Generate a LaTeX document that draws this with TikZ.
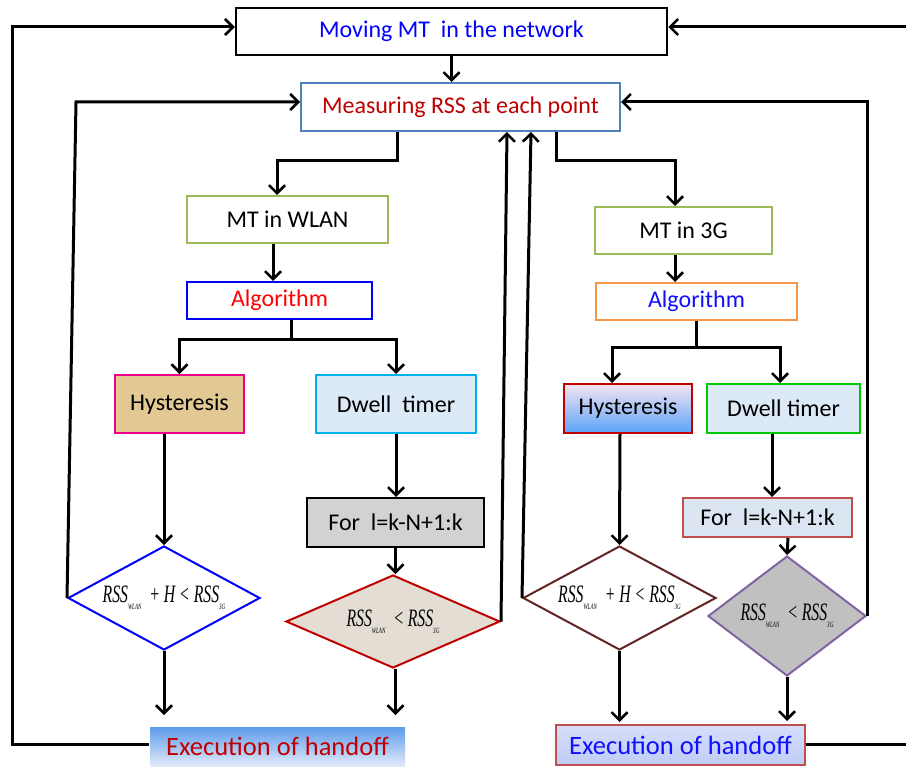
\documentclass[tikz,border=0pt]{standalone}
\usepackage{fontspec}
\setmainfont{Carlito}
\newfontfamily\mathserif{Liberation Serif}
\usetikzlibrary{arrows.meta,shapes.geometric}
\definecolor{measborder}{HTML}{4F81BD}
\definecolor{darkred}{HTML}{C00000}
\definecolor{olive}{HTML}{9BBB59}
\definecolor{orangeb}{HTML}{F79646}
\definecolor{cyanb}{HTML}{00B0F0}
\definecolor{lightblue}{HTML}{DCE9F6}
\definecolor{tan}{HTML}{E2C993}
\definecolor{marble}{HTML}{D2D2D2}
\definecolor{beige}{HTML}{E3DDD3}
\definecolor{brownb}{HTML}{632523}
\definecolor{purpleb}{HTML}{8064A2}
\definecolor{grayfill}{HTML}{C0C0C0}
\definecolor{redb}{HTML}{C0504D}
\definecolor{greenb}{HTML}{00C800}
\definecolor{forfill}{HTML}{DCE6F2}
\definecolor{exLtop}{HTML}{5D9CEC}
\definecolor{exLbot}{HTML}{E2EAF8}
\definecolor{exRtop}{HTML}{D6DEFA}
\definecolor{exRbot}{HTML}{BFCCF4}
\definecolor{hysRtop}{HTML}{F5E4F2}
\definecolor{hysRbot}{HTML}{5BA3F7}
\definecolor{textblue}{HTML}{1010FF}
\tikzset{
  box/.style={rectangle, draw, line width=2pt, inner sep=0pt, font=\fontsize{24}{24}\selectfont, align=center},
  exbox/.style={box, font=\fontsize{26.5}{26.5}\selectfont},
  dia/.style={diamond, draw, line width=2pt, inner sep=0pt, shape aspect=2},
  line/.style={line width=3pt},
  arr/.style={line width=3pt, -{Straight Barb[length=8pt,width=16pt,line width=2.5pt]}},
}
\newcommand{\rss}[1]{RSS\raisebox{-7pt}{\fontsize{8}{8}\selectfont #1}}
\newcommand{\mathtext}[1]{\scalebox{0.63}[1]{\mathserif\itshape\fontsize{25}{25}\selectfont #1}}
\begin{document}
\begin{tikzpicture}[x=1pt,y=-1pt]
\useasboundingbox (0,0) rectangle (906,768);
\fill[white] (0,0) rectangle (906,768);
% top boxes
\node[box, draw=black, line width=2.5pt, minimum width=431, minimum height=47, text=blue] (move) at (451.5,31.5) {Moving MT\ \ in the network};
\node[box, draw=measborder, minimum width=319, minimum height=48, text=darkred] (meas) at (460.5,107) {Measuring RSS at each point};
% left branch
\node[box, draw=olive, minimum width=201, minimum height=47] (wlan) at (287.5,219.5) {MT in WLAN};
\node[box, draw=blue, minimum width=185, minimum height=37, text=red] (algL) at (279.5,300.5) {Algorithm};
\node[box, draw=magenta, fill=tan, minimum width=129, minimum height=58] (hysL) at (179.5,404) {Hysteresis};
\node[box, draw=cyanb, fill=lightblue, minimum width=160, minimum height=58] (dwL) at (396,404) {Dwell\ \ timer};
\node[box, draw=black, fill=marble, minimum width=177, minimum height=49] (forL) at (395.5,522.5) {For\ \ l=k-N+1:k};
\node[dia, draw=blue, minimum width=192, minimum height=104] (dL) at (164,598)
  {\mathtext{\rss{WLAN}\ \ + H < \rss{3G}}};
\node[dia, draw=darkred, fill=beige, minimum width=214, minimum height=93] (d2L) at (393,621.5)
  {\mathtext{\rss{WLAN}\ \ < \rss{3G}}};
\node[exbox, draw=none, top color=exLtop, bottom color=exLbot, minimum width=255, minimum height=39, text=darkred] (exL) at (277.5,746.5) {Execution of handoff};
% right branch
\node[box, draw=olive, minimum width=177, minimum height=47] (g3) at (683.5,230.5) {MT in 3G};
\node[box, draw=orangeb, minimum width=201, minimum height=37, text=textblue] (algR) at (696.5,301.5) {Algorithm};
\node[box, draw=darkred, top color=hysRtop, bottom color=hysRbot, minimum width=128, minimum height=49] (hysR) at (628,408.5) {Hysteresis};
\node[box, draw=greenb, fill=lightblue, minimum width=153, minimum height=49] (dwR) at (783.5,408.5) {Dwell timer};
\node[box, draw=redb, fill=forfill, minimum width=169, minimum height=39] (forR) at (767.5,517.5) {For\ \ l=k-N+1:k};
\node[dia, draw=brownb, minimum width=193, minimum height=104] (d3R) at (619.5,598)
  {\mathtext{\rss{WLAN}\ \ + H < \rss{3G}}};
\node[dia, draw=purpleb, fill=grayfill, shape aspect=1.4, minimum width=158, minimum height=120] (d4R) at (787,616)
  {\mathtext{\rss{WLAN}\ \ < \rss{3G}}};
\node[exbox, draw=redb, top color=exRtop, bottom color=exRbot, minimum width=249, minimum height=40, text=textblue] (exR) at (680.5,745) {Execution of handoff};
% corner coordinates
\coordinate (oL) at (12,744);
\coordinate (oLt) at (12,27);
\coordinate (oR) at (915,744);
\coordinate (oRt) at (915,27);
\coordinate (iL) at (76,102);
\coordinate (iR) at (867,102);
% connectors top
\draw[arr] (move.south) -- (move.south |- meas.north);
\draw[arr] ([xshift=-63.5pt]meas.south) -- ++(0,28) -| ([xshift=-10.5pt]wlan.north);
\draw[arr] ([xshift=95.5pt]meas.south) -- ++(0,28) -| ([xshift=-8.5pt]g3.north);
\draw[arr] ([xshift=-14.5pt]wlan.south) -- ([xshift=-14.5pt]wlan.south |- algL.north);
\draw[arr] ([xshift=-8.5pt]g3.south) -- ([xshift=-8.5pt]g3.south |- algR.north);
% left algorithm split
\coordinate (cL) at ([xshift=11.5pt,yshift=-19pt]algL.south);
\draw[line] ([xshift=11.5pt]algL.south) -- (cL);
\draw[arr] (cL) -| (hysL.north);
\draw[arr] (cL) -| (dwL.north);
% right algorithm split
\coordinate (cR) at ([yshift=-26pt]algR.south);
\draw[line] (algR.south) -- (cR);
\draw[arr] (cR) -| ([xshift=-16pt]hysR.north);
\draw[arr] (cR) -| ([xshift=-3.5pt]dwR.north);
% left column
\draw[arr] ([xshift=-15.5pt]hysL.south) -- (dL.north);
\draw[arr] (dwL.south) -- (dwL.south |- forL.north);
\draw[arr] (forL.south) -- (forL.south |- d2L.north);
\draw[arr, shorten >=11pt] (dL.south) -- (dL.south |- exL.north);
\draw[arr, shorten >=11pt] (forL.south |- d2L.south) -- (forL.south |- exL.north);
% right column
\draw[arr] ([xshift=-8pt]hysR.south) -- (d3R.north);
\draw[arr] ([xshift=-11.5pt]dwR.south) -- ([xshift=-11.5pt]dwR.south |- forR.north);
\draw[arr] ([xshift=20.5pt]forR.south) -- (d4R.north);
\draw[arr, shorten >=2pt] (d3R.south) -- (d3R.south |- exR.north);
\draw[arr, shorten >=3pt] (d4R.south) -- (d4R.south |- exR.north);
% loops
\draw[arr] (exL.west |- oL) -- (oL) -- (oLt) -- (oLt -| move.west);
\draw[arr] (exR.east |- oR) -- (oR) -- (oRt) -- (oRt -| move.east);
\draw[arr] (dL.west) -- (iL) -- (iL -| meas.west);
\draw[arr] (d4R.east) -- (d4R.east |- iR) -- (iR -| meas.east);
\draw[arr] (d2L.east) -- ([xshift=46.5pt]meas.south);
\draw[arr] (d3R.west) -- ([xshift=70.5pt]meas.south);
\end{tikzpicture}
\end{document}
